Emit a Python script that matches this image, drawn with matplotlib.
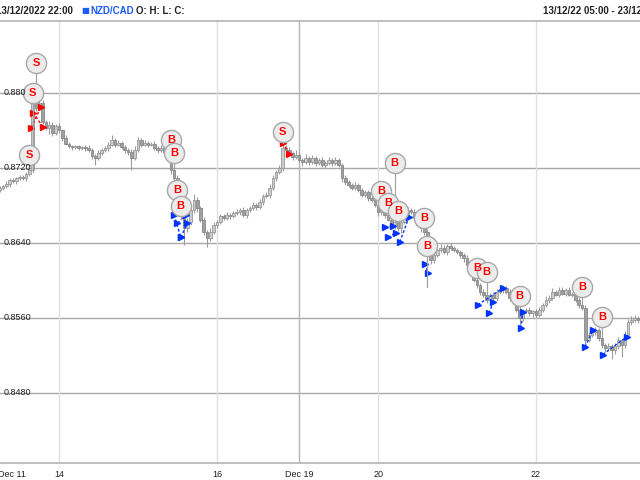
import numpy as np
import matplotlib.pyplot as plt

plt.rcParams['font.family'] = ['Liberation Sans', 'DejaVu Sans']

# hourly NZD/CAD closes, 13/12/22 05:00 onwards
closes = [
    0.8697, 0.8699, 0.8701, 0.8703, 0.8707, 0.8706, 0.8709, 0.8710, 0.8709, 0.8714,
    0.8718, 0.8793, 0.8784, 0.8789, 0.8769, 0.8763, 0.8766, 0.8757, 0.8765, 0.8760,
    0.8752, 0.8746, 0.8743, 0.8742, 0.8743, 0.8741, 0.8742, 0.8741, 0.8739, 0.8733,
    0.8731, 0.8736, 0.8739, 0.8741, 0.8745, 0.8750, 0.8745, 0.8747, 0.8742, 0.8739,
    0.8737, 0.8731, 0.8739, 0.8750, 0.8745, 0.8747, 0.8745, 0.8746, 0.8741, 0.8739,
    0.8741, 0.8737, 0.8733, 0.8718, 0.8709, 0.8686, 0.8670, 0.8656, 0.8662, 0.8675,
    0.8686, 0.8677, 0.8665, 0.8652, 0.8645, 0.8652, 0.8659, 0.8662, 0.8669, 0.8667,
    0.8670, 0.8669, 0.8672, 0.8673, 0.8675, 0.8670, 0.8675, 0.8677, 0.8681, 0.8678,
    0.8684, 0.8690, 0.8691, 0.8699, 0.8709, 0.8716, 0.8720, 0.8741, 0.8739, 0.8736,
    0.8732, 0.8734, 0.8729, 0.8726, 0.8731, 0.8726, 0.8731, 0.8725, 0.8729, 0.8723,
    0.8725, 0.8729, 0.8725, 0.8728, 0.8723, 0.8709, 0.8705, 0.8702, 0.8699, 0.8702,
    0.8697, 0.8691, 0.8694, 0.8688, 0.8686, 0.8681, 0.8673, 0.8677, 0.8670, 0.8665,
    0.8659, 0.8662, 0.8656, 0.8662, 0.8670, 0.8675, 0.8673, 0.8667, 0.8659, 0.8656,
    0.8652, 0.8627, 0.8622, 0.8627, 0.8633, 0.8635, 0.8630, 0.8637, 0.8635, 0.8633,
    0.8630, 0.8627, 0.8624, 0.8616, 0.8609, 0.8600, 0.8595, 0.8588, 0.8585, 0.8579,
    0.8584, 0.8581, 0.8588, 0.8590, 0.8592, 0.8588, 0.8581, 0.8577, 0.8569, 0.8560,
    0.8567, 0.8569, 0.8565, 0.8567, 0.8563, 0.8569, 0.8574, 0.8579, 0.8581, 0.8588,
    0.8585, 0.8590, 0.8586, 0.8590, 0.8585, 0.8586, 0.8579, 0.8574, 0.8571, 0.8537,
    0.8542, 0.8545, 0.8547, 0.8539, 0.8531, 0.8528, 0.8530, 0.8526, 0.8530, 0.8536,
    0.8531, 0.8542, 0.8556, 0.8558, 0.8560, 0.8558,
]
first_open = 0.8695

# wick lengths in pips (0.0001)
upper_wick = [
    2, 2, 1, 3, 2, 2, 1, 2, 3, 2, 2, 7, 20, 4, 3, 2, 4, 3, 2, 3,
    2, 3, 2, 1, 2, 2, 1, 2, 3, 2, 2, 3, 2, 2, 3, 5, 2, 3, 2, 2,
    2, 3, 4, 3, 2, 3, 2, 2, 3, 2, 3, 2, 2, 3, 4, 3, 2, 4, 5, 4,
    6, 3, 2, 3, 2, 4, 3, 3, 2, 2, 3, 2, 2, 3, 2, 3, 2, 2, 3, 2,
    3, 2, 3, 4, 3, 2, 3, 6, 4, 3, 2, 5, 3, 2, 4, 2, 3, 2, 2, 3,
    2, 3, 2, 4, 3, 2, 3, 2, 2, 3, 2, 2, 3, 2, 3, 2, 3, 4, 2, 3,
    3, 2, 4, 3, 5, 3, 2, 3, 2, 3, 2, 3, 4, 3, 2, 4, 3, 2, 3, 2,
    2, 3, 2, 3, 2, 3, 4, 2, 3, 3, 3, 4, 3, 2, 3, 2, 3, 2, 3, 4,
    3, 2, 3, 2, 3, 3, 2, 4, 3, 4, 2, 3, 3, 2, 3, 2, 4, 3, 2, 3,
    3, 4, 3, 2, 3, 2, 3, 2, 3, 4, 2, 4, 3, 4, 3, 2,
]
lower_wick = [
    2, 3, 2, 2, 3, 2, 3, 2, 2, 3, 3, 2, 3, 2, 3, 2, 7, 3, 2, 3,
    3, 2, 2, 3, 2, 2, 2, 3, 2, 3, 8, 3, 2, 2, 3, 2, 3, 2, 2, 3,
    3, 13, 3, 2, 3, 2, 3, 2, 2, 3, 2, 2, 3, 4, 3, 5, 4, 18, 4, 3,
    3, 4, 3, 4, 9, 3, 2, 3, 2, 3, 2, 3, 2, 2, 3, 2, 3, 2, 2, 3,
    2, 3, 2, 3, 2, 3, 2, 3, 2, 2, 3, 2, 3, 4, 2, 3, 2, 3, 2, 2,
    3, 2, 3, 2, 2, 4, 3, 2, 3, 2, 3, 2, 2, 3, 2, 3, 4, 3, 3, 2,
    3, 4, 3, 5, 2, 3, 2, 3, 2, 4, 3, 34, 4, 3, 2, 3, 2, 3, 2, 3,
    2, 3, 4, 3, 3, 2, 3, 4, 3, 3, 3, 2, 3, 2, 3, 2, 3, 2, 3, 13,
    3, 2, 3, 4, 3, 2, 3, 2, 3, 2, 2, 3, 2, 3, 2, 3, 2, 3, 2, 8,
    3, 2, 3, 4, 3, 4, 3, 10, 4, 3, 13, 3, 2, 3, 2, 3,
]

# signal labels: (candle index, label price)
sell_signals = [(12, 0.8832), (11, 0.8800), (10, 0.8734), (87, 0.8758)]
buy_signals = [(53, 0.8750), (54, 0.8736), (55, 0.8697), (56, 0.8679),
               (121, 0.8725), (117, 0.8695), (119, 0.8683), (122, 0.8674),
               (130, 0.8667), (131, 0.8637), (146, 0.8613), (149, 0.8609),
               (159, 0.8583), (178, 0.8593), (184, 0.8561)]

# trades: (entry index, entry price, exit index, exit price)
sell_trades = [(10.5, 0.8763, 13.5, 0.8785), (11.1, 0.8779, 14.1, 0.8764),
               (87.0, 0.8747, 89.0, 0.8735)]
buy_trades = [(54.0, 0.8670, 56.0, 0.8646), (55.0, 0.8661, 57.5, 0.8670),
              (56.0, 0.8646, 58.0, 0.8661), (118.0, 0.8657, 120.5, 0.8658),
              (119.0, 0.8646, 121.5, 0.8651), (122.6, 0.8641, 125.4, 0.8668),
              (130.2, 0.8618, 131.2, 0.8608), (146.3, 0.8574, 154.0, 0.8592),
              (149.7, 0.8565, 151.0, 0.8577), (159.4, 0.8549, 160.0, 0.8566),
              (178.9, 0.8529, 181.3, 0.8547), (184.3, 0.8521, 191.6, 0.8540)]

y_ticks = [0.8480, 0.8560, 0.8640, 0.8720, 0.8800]
y_labels = ['0.8480', '0.8560', '0.8640', '0.8720', '0.880']
day_pos = [4.6, 19, 67, 92, 116, 164]
day_labels = ['Dec 11', '14', '16', 'Dec 19', '20', '22']

closes = np.array(closes)
opens = np.concatenate([[first_open], closes[:-1]])
highs = np.maximum(opens, closes) + np.array(upper_wick) * 0.0001
lows = np.minimum(opens, closes) - np.array(lower_wick) * 0.0001
idx = np.arange(len(closes))

fig = plt.figure(figsize=(6.4, 4.8), dpi=100)
ax = fig.add_axes([0, 17 / 480, 1, 442 / 480])
ax.set_xlim(1.06, 195.6)
ax.set_ylim(0.84053, 0.88768)

for spine in ['top', 'left', 'right']:
    ax.spines[spine].set_visible(False)
ax.spines['bottom'].set_color('#b4b4b4')
ax.spines['bottom'].set_linewidth(1.2)

for y in y_ticks:
    ax.axhline(y, color='#a8a8a8', lw=1, zorder=1)
for p, lab in zip(day_pos[1:], day_labels[1:]):
    ax.axvline(p, color='#b4b4b4' if lab.startswith('Dec') else '#e0e0e0', lw=1, zorder=1)

ax.set_yticks([])
ax.set_xticks(day_pos)
ax.set_xticklabels(day_labels, fontsize=6.5, color='#222222')
ax.tick_params(axis='x', length=0, pad=5)

for y, lab in zip(y_ticks, y_labels):
    ax.text(0.006, y, lab, transform=ax.get_yaxis_transform(), fontsize=6.5,
            color='#222222', va='center', ha='left', zorder=6)

# candles
up = closes >= opens
ax.vlines(idx, lows, highs, color='#9c9c9c', lw=0.8, zorder=2)
ax.bar(idx[up], closes[up] - opens[up], bottom=opens[up], width=0.8,
       color='#cccccc', edgecolor='#999999', lw=0.6, zorder=3)
ax.bar(idx[~up], closes[~up] - opens[~up], bottom=opens[~up], width=0.8,
       color='#a0a0a0', edgecolor='#888888', lw=0.6, zorder=3)

# trades
for trades, col in [(sell_trades, '#ff0000'), (buy_trades, '#0033ff')]:
    for x0, y0, x1, y1 in trades:
        ax.plot([x0, x1], [y0, y1], ls=(0, (2, 1.5)), color=col, lw=1, zorder=4)
        ax.plot([x0, x1], [y0, y1], ls='none', marker='>', ms=4.5, color=col, zorder=4)

# signal bubbles
for signals, letter in [(sell_signals, 'S'), (buy_signals, 'B')]:
    for i, p in signals:
        end = highs[i] if p > highs[i] else lows[i]
        ax.plot([i, i], [p, end], color='#a0a0a0', lw=0.8, zorder=4)
        ax.plot(i, p, 'o', ms=14.5, mfc='#ececec', mec='#a8a8a8', mew=1, zorder=5)
        ax.text(i, p, letter, color='#ff0000', fontsize=8, fontweight='bold',
                ha='center', va='center', zorder=6)

# header
hy = 1 - 11 / 480
fig.add_artist(plt.Line2D([0, 1], [1 - 21 / 480, 1 - 21 / 480], color='#b4b4b4', lw=1.2))
fig.text(-0.007, hy, '13/12/2022 22:00', fontsize=7, fontweight='bold',
         color='#222222', va='center')
fig.text(81 / 640, hy, '\u25A0', fontsize=6, color='#1a5cff', va='center',
         family='DejaVu Sans')
fig.text(90 / 640, hy, 'NZD/CAD', fontsize=7, fontweight='bold',
         color='#1a5cff', va='center')
fig.text(136 / 640, hy, 'O: H: L: C:', fontsize=7, fontweight='bold',
         color='#222222', va='center')
fig.text(543 / 640, hy, '13/12/22 05:00 - 23/12/22 08:00', fontsize=7,
         fontweight='bold', color='#222222', va='center')

fig.savefig('out.png', dpi=100)
